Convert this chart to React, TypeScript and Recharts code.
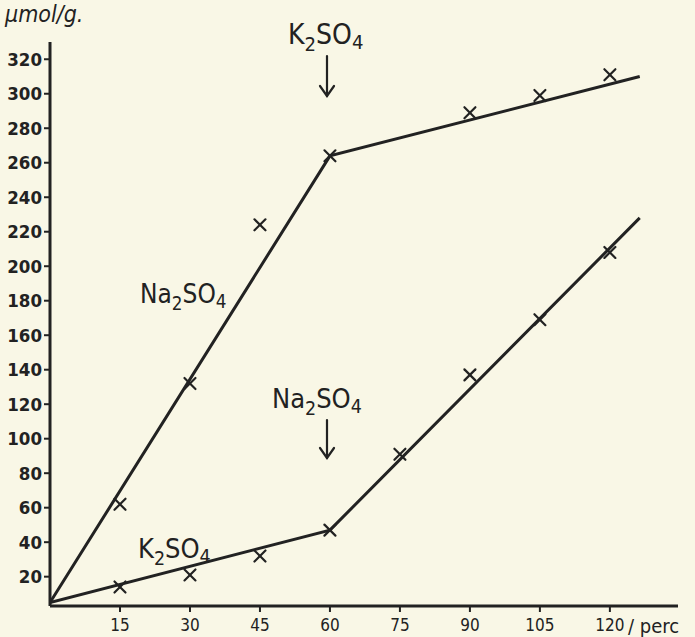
import React from "react";
import { ComposedChart, Line, Scatter, XAxis, YAxis } from "recharts";

const INK = "#222";
const PAPER = "#f9f7e6";
const FONT = "'DejaVu Sans Condensed', 'DejaVu Sans', sans-serif";

// axis ticks
const xTicks = [15, 30, 45, 60, 75, 90, 105, 120];
const yTicks = [20, 40, 60, 80, 100, 120, 140, 160, 180, 200, 220, 240, 260, 280, 300, 320];

// measured points (minutes, umol/g)
const upperX = [15, 30, 45, 60, 90, 105, 120];
const upperY = [62, 132, 224, 264, 289, 299, 311];
const lowerX = [15, 30, 45, 60, 75, 90, 105, 120];
const lowerY = [14, 21, 32, 47, 91, 137, 169, 208];

// hand fitted lines
const upperFitX = [0, 60, 126.4];
const upperFitY = [5, 264, 310];
const lowerFitX = [0, 60, 126.4];
const lowerFitY = [5, 47, 228];

const zip = (xs: number[], ys: number[]) => xs.map((x, i) => ({ x, y: ys[i] }));

const upperPts = zip(upperX, upperY);
const lowerPts = zip(lowerX, lowerY);
const upperFit = zip(upperFitX, upperFitY);
const lowerFit = zip(lowerFitX, lowerFitY);

const Cross = (props: any) => {
  const { cx, cy } = props;
  if (cx == null || cy == null) return null;
  const r = 5.5;
  return (
    <g stroke={INK} strokeWidth={2.2} strokeLinecap="round">
      <line x1={cx - r} y1={cy - r} x2={cx + r} y2={cy + r} />
      <line x1={cx - r} y1={cy + r} x2={cx + r} y2={cy - r} />
    </g>
  );
};

const Salt = ({ x, y, a, size }: { x: number; y: number; a: string; size: number }) => (
  <text x={x} y={y} fontFamily={FONT} fontSize={size} fill={INK}>
    {a}
    <tspan fontSize={size * 0.72} dy={7}>2</tspan>
    <tspan dy={-7}>SO</tspan>
    <tspan fontSize={size * 0.72} dy={5}>4</tspan>
  </text>
);

const Arrow = ({ x, y1, y2 }: { x: number; y1: number; y2: number }) => (
  <g stroke={INK} strokeWidth={2.2} fill="none" strokeLinecap="round">
    <line x1={x} y1={y1} x2={x} y2={y2} />
    <polyline points={`${x - 7},${y2 - 10} ${x},${y2} ${x + 7},${y2 - 10}`} />
  </g>
);

export default function App() {
  return (
    <div style={{ position: "fixed", left: 0, top: 0, width: 695, height: 637, background: PAPER }}>
      <ComposedChart width={695} height={637} margin={{ top: 42, right: 17, bottom: 0, left: 0 }}>
        <XAxis
          type="number"
          dataKey="x"
          domain={[0, 134.6]}
          ticks={xTicks}
          allowDataOverflow
          height={31}
          axisLine={{ stroke: INK, strokeWidth: 3 }}
          tickLine={{ stroke: INK, strokeWidth: 2 }}
          tickSize={6}
          tickMargin={7}
          tick={{ fill: INK, fontSize: 17, fontFamily: FONT }}
        />
        <YAxis
          type="number"
          dataKey="y"
          domain={[3, 330]}
          ticks={yTicks}
          allowDataOverflow
          width={50}
          axisLine={{ stroke: INK, strokeWidth: 3 }}
          tickLine={{ stroke: INK, strokeWidth: 2 }}
          tickSize={6}
          tickMargin={2}
          tick={{ fill: INK, fontSize: 18.5, fontFamily: FONT, fontWeight: 700 }}
        />
        <Line data={upperFit} dataKey="y" stroke={INK} strokeWidth={3} dot={false} isAnimationActive={false} />
        <Line data={lowerFit} dataKey="y" stroke={INK} strokeWidth={3} dot={false} isAnimationActive={false} />
        <Scatter data={upperPts} dataKey="y" shape={<Cross />} isAnimationActive={false} />
        <Scatter data={lowerPts} dataKey="y" shape={<Cross />} isAnimationActive={false} />
      </ComposedChart>
      <svg width={695} height={637} style={{ position: "absolute", left: 0, top: 0, pointerEvents: "none" }}>
        <text x={5} y={22} fontFamily={FONT} fontStyle="italic" fontSize={23} fill={INK}>
          μmol/g.
        </text>
        <text x={628} y={633} fontFamily={FONT} fontSize={20} fill={INK}>
          / perc
        </text>
        <Salt x={288} y={44} a="K" size={28} />
        <Arrow x={327} y1={56} y2={96} />
        <Salt x={140} y={303} a="Na" size={26} />
        <Salt x={272} y={408} a="Na" size={27} />
        <Arrow x={327} y1={420} y2={458} />
        <Salt x={138} y={558} a="K" size={27} />
      </svg>
    </div>
  );
}
